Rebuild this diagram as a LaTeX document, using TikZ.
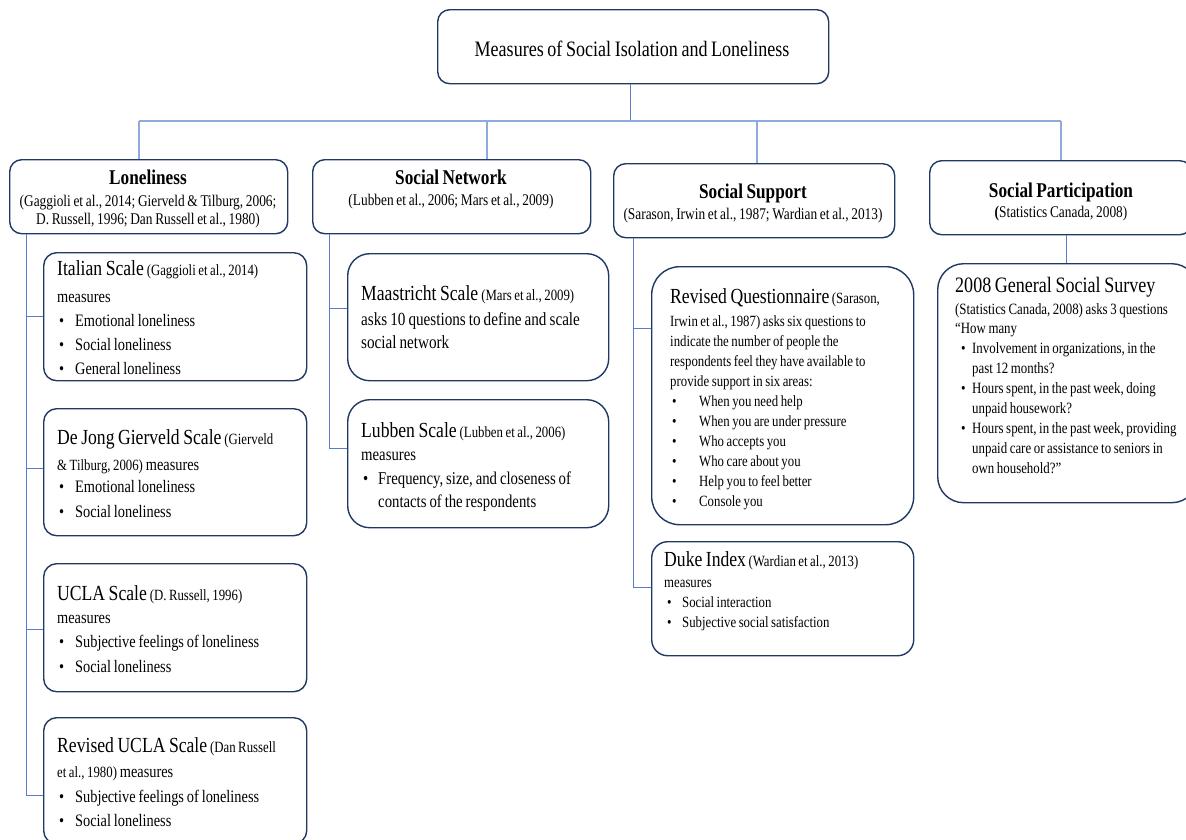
\documentclass[tikz,border=0pt]{standalone}
\usepackage{fontspec}
\setmainfont[FakeStretch=0.82]{Liberation Serif}

\definecolor{navy}{RGB}{31,56,100}
\definecolor{busblue}{RGB}{143,170,220}
\definecolor{linkblue}{RGB}{90,125,200}

\newcommand{\tight}{\spaceskip=0.8\fontdimen2\font\relax\xspaceskip=\spaceskip}
\tikzstyle{card}=[draw=navy,line width=1.4pt,anchor=north west,inner sep=0pt]
\tikzstyle{cardtext}=[anchor=base west,inner sep=0pt,text width=300pt,align=left,execute at begin node=\tight]
\tikzstyle{headtext}=[anchor=base,inner sep=0pt,text width=420pt,align=center,execute at begin node=\tight]
\tikzstyle{busline}=[draw=busblue,line width=2pt]
\tikzstyle{branch}=[draw=linkblue,line width=1pt]
\newcommand{\refsize}{\fontsize{15.6}{18}\selectfont\tight}
\newcommand{\headref}{\fontsize{16.3}{18}\selectfont\tight}
\newcommand{\namesize}{\fontsize{21.5}{24}\selectfont\tight}
\newcommand{\cattitle}{\fontsize{21}{24}\selectfont\bfseries\tight}
\newcommand{\bitem}[3]{\hspace*{#1pt}\makebox[#2pt][l]{\textbullet}#3}

\begin{document}
\begin{tikzpicture}[x=1pt, y=-1pt]
    \useasboundingbox (0,0) rectangle (1186,839);
    % First we draw the boxes
    \foreach \pos/\name/\w/\h/\r in {{(437,9)/top/391/74/12pt}, {(9,159)/lon/278/74/12pt},
        {(312,159)/net/278/74/12pt}, {(613,163)/sup/281/74/12pt}, {(929,160)/par/262/74/12pt},
        {(43,252)/ital/263/128/13pt}, {(43,408)/djg/263/127/13pt}, {(43,563)/ucla/263/128/13pt},
        {(43,717)/rucla/263/126/13pt}, {(347,253)/maas/261/127/22pt}, {(347,399)/lub/261/128/22pt},
        {(651,266)/rq/262/258/28pt}, {(651,541)/duke/262/114/16pt}, {(937,263)/gss/260/239/26pt}}
        \node[card, minimum width=\w, minimum height=\h, rounded corners=\r] (\name) at \pos {};

    % Then the texts of the top and the four categories
    \node[headtext, font=\fontsize{22}{26}\selectfont] (top-t) at (632,56) {Measures of Social Isolation and Loneliness};
    \node[headtext, font=\headref] (lon-t) at (148,184) {{\cattitle Loneliness}\\[4pt]
        (Gaggioli et al., 2014; Gierveld \& Tilburg, 2006;\\D. Russell, 1996; Dan Russell et al., 1980)};
    \node[headtext, font=\headref] (net-t) at (451,184) {{\cattitle Social Network}\\[3pt]
        (Lubben et al., 2006; Mars et al., 2009)};
    \node[headtext, font=\headref] (sup-t) at (753,198) {{\cattitle Social Support}\\[3pt]
        (Sarason, Irwin et al., 1987; Wardian et al., 2013)};
    \node[headtext, font=\headref] (par-t) at (1061,197) {{\cattitle Social Participation}\\[2pt]
        \textbf{(}Statistics Canada, 2008)};

    % Loneliness scales
    \node[cardtext, font=\fontsize{17.5}{24}\selectfont] (ital-t) at (57,275) {{\namesize Italian Scale} {\refsize (Gaggioli et al., 2014)}\\[3pt]
        measures\\
        \bitem{2}{16}{Emotional loneliness}\\
        \bitem{2}{16}{Social loneliness}\\
        \bitem{2}{16}{General loneliness}};
    \node[cardtext, font=\fontsize{17.5}{24}\selectfont] (djg-t) at (57,444) {{\namesize De Jong Gierveld Scale} {\refsize (Gierveld}\\[2pt]
        {\refsize \& Tilburg, 2006)} measures\\[-2pt]
        \bitem{2}{16}{Emotional loneliness}\\[1pt]
        \bitem{2}{16}{Social loneliness}};
    \node[cardtext, font=\fontsize{17.5}{24}\selectfont] (ucla-t) at (57,600) {{\namesize UCLA Scale} {\refsize (D. Russell, 1996)}\\[-1pt]
        measures\\
        \bitem{2}{16}{Subjective feelings of loneliness}\\[1pt]
        \bitem{2}{16}{Social loneliness}};
    \node[cardtext, font=\fontsize{17.5}{24}\selectfont] (rucla-t) at (57,752) {{\namesize Revised UCLA Scale} {\refsize (Dan Russell}\\[1pt]
        {\refsize et al., 1980)} measures\\[1pt]
        \bitem{2}{16}{Subjective feelings of loneliness}\\
        \bitem{2}{16}{Social loneliness}};

    % Social network scales
    \node[cardtext, font=\fontsize{18.5}{23}\selectfont] (maas-t) at (361,300) {{\namesize Maastricht Scale} {\refsize (Mars et al., 2009)}\\[2pt]
        asks 10 questions to define and scale\\
        social network};
    \node[cardtext, font=\fontsize{18}{23.5}\selectfont] (lub-t) at (361,437) {{\namesize Lubben Scale} {\refsize (Lubben et al., 2006)}\\
        measures\\
        \bitem{2}{15}{Frequency, size, and closeness of}\\
        \hspace*{17pt}contacts of the respondents};

    % Social support scales
    \node[cardtext, font=\fontsize{15.6}{20}\selectfont] (rq-t) at (670,303) {{\namesize Revised Questionnaire} (Sarason,\\[3pt]
        Irwin et al., 1987) asks six questions to\\
        indicate the number of people the\\
        respondents feel they have available to\\
        provide support in six areas:\\
        \bitem{2}{27}{When you need help}\\
        \bitem{2}{27}{When you are under pressure}\\
        \bitem{2}{27}{Who accepts you}\\
        \bitem{2}{27}{Who care about you}\\
        \bitem{2}{27}{Help you to feel better}\\
        \bitem{2}{27}{Console you}};
    \node[cardtext, font=\fontsize{15.6}{20}\selectfont] (duke-t) at (664,566) {{\namesize Duke Index} (Wardian et al., 2013)\\[1pt]
        measures\\
        \bitem{3}{15}{Social interaction}\\
        \bitem{3}{15}{Subjective social satisfaction}};

    % Social participation survey
    \node[cardtext, font=\fontsize{15.7}{20}\selectfont] (gss-t) at (955,292) {{\fontsize{22}{24}\selectfont\tight 2008 General Social Survey}\\[2pt]
        (Statistics Canada, 2008) asks 3 questions\\[-1pt]
        “How many\\
        \bitem{6}{11}{Involvement in organizations, in the}\\
        \hspace*{17pt}past 12 months?\\
        \bitem{6}{11}{Hours spent, in the past week, doing}\\
        \hspace*{17pt}unpaid housework?\\
        \bitem{6}{11}{Hours spent, in the past week, providing}\\
        \hspace*{17pt}unpaid care or assistance to seniors in\\
        \hspace*{17pt}own household?”};

    % Connect the top box with the categories
    \coordinate (hub) at (630,121);
    \coordinate (busl) at (139,121);
    \coordinate (busr) at (1061,121);
    \path[branch] (top.south -| hub) -- (hub);
    \path[busline] (busl) -- (busr);
    \foreach \name/\x in {lon/139, net/487, sup/757, par/1061}
        \path[busline, line width=1.5pt] (hub -| \x,0) -- (\name.north -| \x,0);

    % Connect the categories with their measures
    \foreach \src/\x/\dest/\y in {lon/26/ital/316, lon/26/djg/468, lon/26/ucla/629, lon/26/rucla/795,
        net/329/maas/308, net/329/lub/448, sup/633/rq/328, sup/633/duke/587}
        \path[branch] (\src.south -| \x,0) |- (\dest.west |- 0,\y);
    \path[branch] (par.south -| 1066,0) -- (gss.north -| 1066,0);
\end{tikzpicture}
\end{document}
